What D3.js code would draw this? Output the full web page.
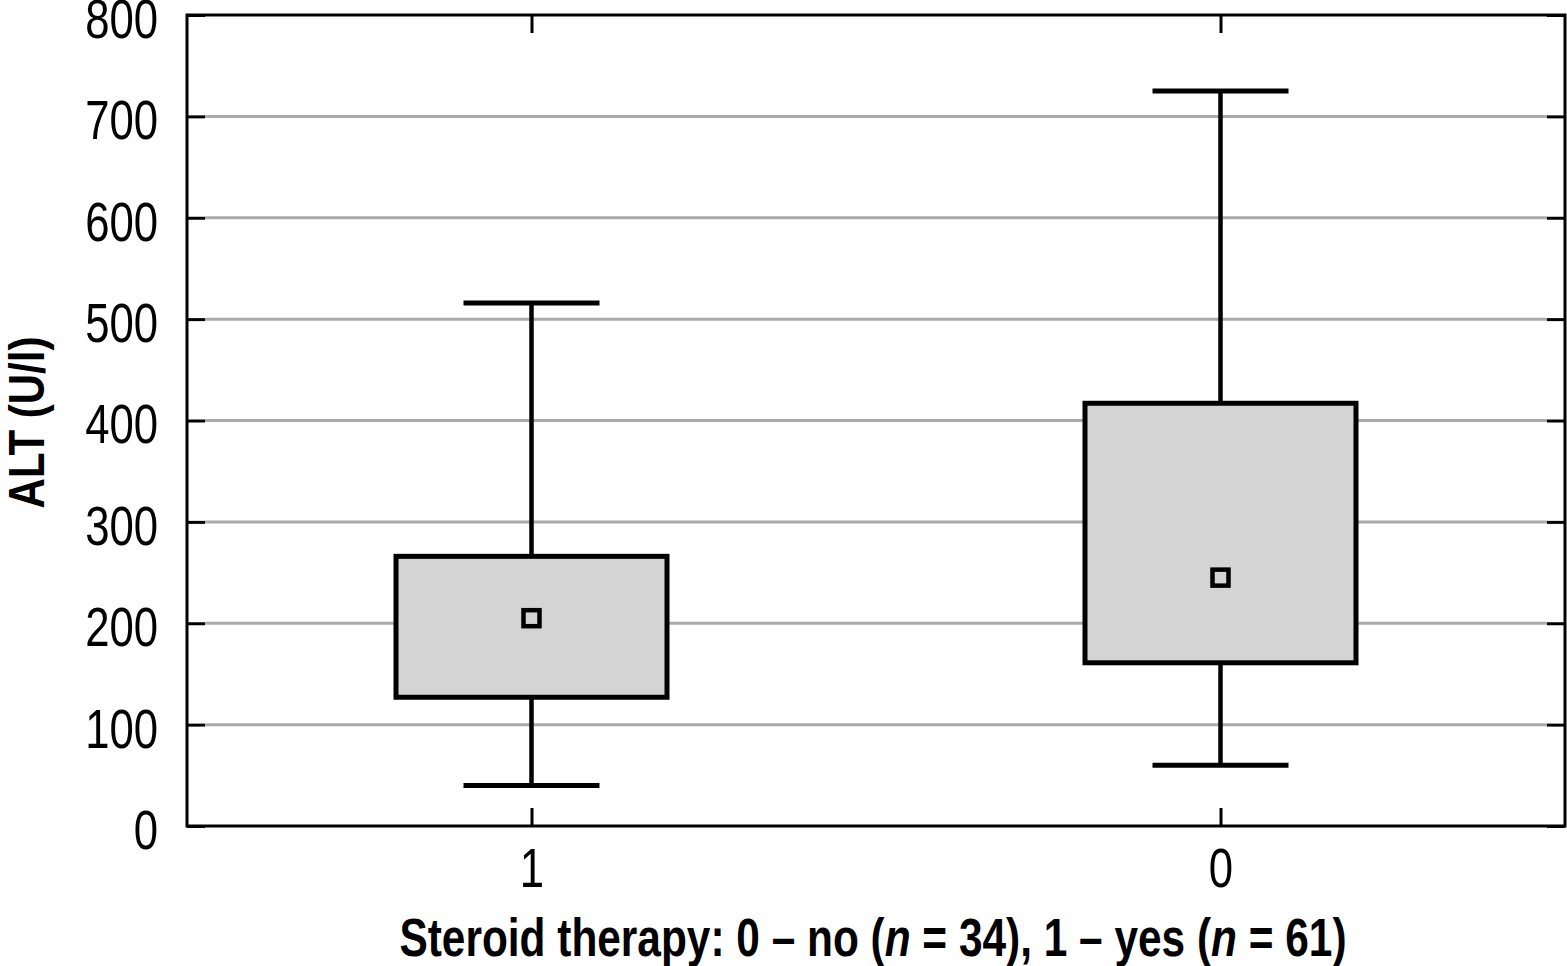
<!DOCTYPE html>
<html>
<head>
<meta charset="utf-8">
<script src="https://cdn.jsdelivr.net/npm/d3@7"></script>
<style>
  body { margin: 0; background: #fff; }
  svg text { font-family: "Liberation Sans", Arial, sans-serif; fill: #000; }
</style>
</head>
<body>
<div class="container"></div>
<script>
const w = 1567;
const h = 966;
const margin = { left: 187, right: 2, top: 15, bottom: 140 };

const groups = ['1', '0'];
const whiskerLow = [40, 60];
const q1 = [127, 161];
const q3 = [266, 417];
const whiskerHigh = [516, 725];
const means = [205, 245];
const yTicks = [0, 100, 200, 300, 400, 500, 600, 700, 800];

const data = groups.map((g, i) => ({
    g: g, lo: whiskerLow[i], q1: q1[i], q3: q3[i], hi: whiskerHigh[i], mean: means[i]
}));

const svg = d3.select('.container')
    .append('svg')
    .attr('width', w)
    .attr('height', h);

const x0 = margin.left;
const x1 = w - margin.right;
const y0 = h - margin.bottom;
const y1 = margin.top;

const xScale = d3.scalePoint()
    .domain(groups)
    .range([x0, x1])
    .padding(0.5);

const yScale = d3.scaleLinear()
    .domain([0, 800])
    .range([y0, y1]);

const boxW = 271;
const capW = 136;
const tickLen = 18;
const squeeze = 0.78; // condensed look

// gridlines
svg.append('g')
    .selectAll('line')
    .data(yTicks.filter(d => d > 0 && d < 800))
    .enter()
    .append('line')
    .attr('x1', x0 + tickLen)
    .attr('x2', x1 - tickLen)
    .attr('y1', d => yScale(d))
    .attr('y2', d => yScale(d))
    .attr('stroke', '#aaaaaa')
    .attr('stroke-width', 3);

// left axis, ticks pointing in
const gy = svg.append('g')
    .attr('transform', `translate(${x0}, 0)`)
    .call(d3.axisLeft(yScale).tickValues(yTicks).tickSizeInner(-tickLen).tickSizeOuter(0));
gy.select('.domain').remove();
gy.selectAll('line').attr('stroke', '#000').attr('stroke-width', 3);
gy.selectAll('text')
    .attr('x', 0)
    .attr('dy', '0.40em')
    .attr('font-size', 56)
    .attr('transform', `translate(-29, 0) scale(${squeeze}, 1)`);

// right axis ticks
const gyr = svg.append('g')
    .attr('transform', `translate(${x1}, 0)`)
    .call(d3.axisRight(yScale).tickValues(yTicks).tickSizeInner(-tickLen).tickSizeOuter(0).tickFormat(''));
gyr.select('.domain').remove();
gyr.selectAll('line').attr('stroke', '#000').attr('stroke-width', 3);

// bottom axis
const gx = svg.append('g')
    .attr('transform', `translate(0, ${y0})`)
    .call(d3.axisBottom(xScale).tickSizeInner(-tickLen).tickSizeOuter(0));
gx.select('.domain').remove();
gx.selectAll('line').attr('stroke', '#000').attr('stroke-width', 3);
gx.selectAll('text')
    .attr('y', 0)
    .attr('dy', 0)
    .attr('font-size', 56)
    .attr('transform', `translate(0, 61) scale(${squeeze}, 1)`);

// top ticks
const gxt = svg.append('g')
    .attr('transform', `translate(0, ${y1})`)
    .call(d3.axisTop(xScale).tickSizeInner(-tickLen).tickSizeOuter(0).tickFormat(''));
gxt.select('.domain').remove();
gxt.selectAll('line').attr('stroke', '#000').attr('stroke-width', 3);

// frame
svg.append('rect')
    .attr('x', x0)
    .attr('y', y1)
    .attr('width', x1 - x0)
    .attr('height', y0 - y1)
    .attr('fill', 'none')
    .attr('stroke', '#000')
    .attr('stroke-width', 3);

const boxes = svg.append('g')
    .selectAll('g')
    .data(data)
    .enter()
    .append('g');

// whiskers
boxes.append('line')
    .attr('x1', d => xScale(d.g))
    .attr('x2', d => xScale(d.g))
    .attr('y1', d => yScale(d.hi))
    .attr('y2', d => yScale(d.lo))
    .attr('stroke', '#000')
    .attr('stroke-width', 4.5);

boxes.selectAll('.cap')
    .data(d => [d.lo, d.hi].map(v => ({ g: d.g, v: v })))
    .enter()
    .append('line')
    .attr('class', 'cap')
    .attr('x1', d => xScale(d.g) - capW / 2)
    .attr('x2', d => xScale(d.g) + capW / 2)
    .attr('y1', d => yScale(d.v))
    .attr('y2', d => yScale(d.v))
    .attr('stroke', '#000')
    .attr('stroke-width', 5);

boxes.append('rect')
    .attr('x', d => xScale(d.g) - boxW / 2)
    .attr('y', d => yScale(d.q3))
    .attr('width', boxW)
    .attr('height', d => yScale(d.q1) - yScale(d.q3))
    .attr('fill', '#d4d4d4')
    .attr('stroke', '#000')
    .attr('stroke-width', 5);

boxes.append('rect')
    .attr('x', d => xScale(d.g) - 8)
    .attr('y', d => yScale(d.mean) - 8)
    .attr('width', 16)
    .attr('height', 16)
    .attr('fill', '#d4d4d4')
    .attr('stroke', '#000')
    .attr('stroke-width', 4.5);

// axis titles
svg.append('text')
    .attr('transform', `translate(${(x0 + x1) / 2 - 3}, 956) scale(0.80, 1)`)
    .attr('text-anchor', 'middle')
    .attr('font-size', 53)
    .attr('font-weight', 'bold')
    .html('Steroid therapy: 0 – no (<tspan font-style="italic">n</tspan> = 34), 1 – yes (<tspan font-style="italic">n</tspan> = 61)');

svg.append('text')
    .attr('transform', `translate(44, ${(y0 + y1) / 2 + 2}) rotate(-90) scale(0.84, 1)`)
    .attr('text-anchor', 'middle')
    .attr('font-size', 50)
    .attr('font-weight', 'bold')
    .text('ALT (U/l)');
</script>
</body>
</html>
